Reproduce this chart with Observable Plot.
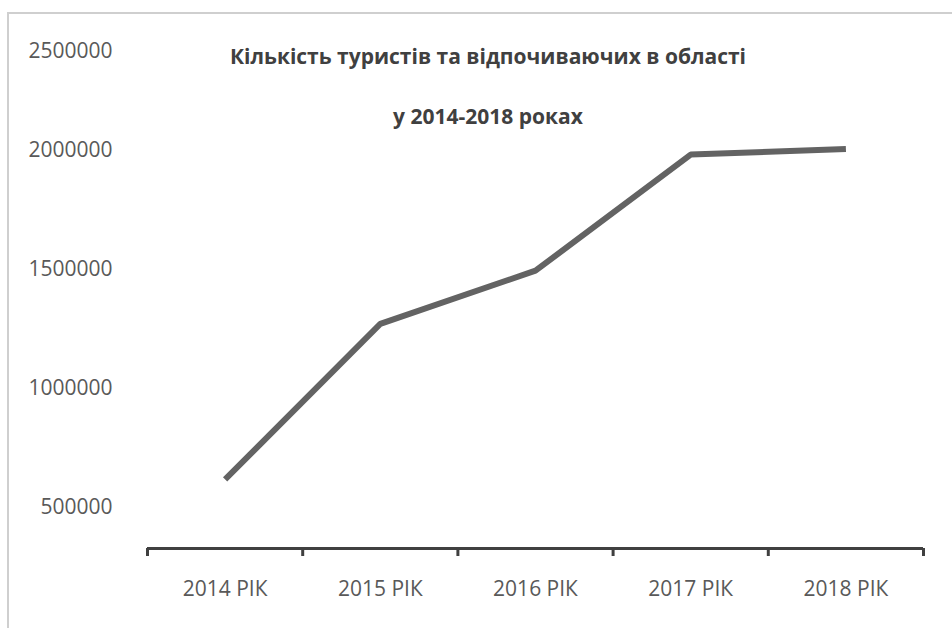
<!DOCTYPE html>
<html>
<head>
<meta charset="utf-8">
<script src="https://cdn.jsdelivr.net/npm/d3@7"></script>
<script src="https://cdn.jsdelivr.net/npm/@observablehq/plot@0.6"></script>
<style>
  html, body { margin: 0; padding: 0; background: #fff; overflow: hidden; }
  #wrap { position: relative; width: 952px; height: 628px; overflow: hidden; background: #fff; }
  #chart { position: absolute; left: 0; top: 0; z-index: 1; }
  .edge { position: absolute; background: #cfcfcf; z-index: 10; }
  .title { position: absolute; left: 178px; width: 620px; text-align: center; white-space: nowrap; z-index: 2;
           font-family: "Open Sans", sans-serif; font-weight: bold; font-size: 21px; color: #404040; }
</style>
</head>
<body>
<div id="wrap">
  <div id="chart"></div>
  <div class="edge" style="left:7px; top:12px; width:2px; height:616px;"></div>
  <div class="edge" style="left:7px; top:12px; width:945px; height:2px;"></div>
  <div class="title" style="top:42px">Кількість туристів та відпочиваючих в області</div>
  <div class="title" style="top:102px">у 2014-2018 роках</div>
</div>
<script>
const categories = ["2014 РІК", "2015 РІК", "2016 РІК", "2017 РІК", "2018 РІК"];
const tourists = [618000, 1272000, 1495000, 1983000, 2008000];
const yTicks = [500000, 1000000, 1500000, 2000000, 2500000];

const data = categories.map((c, i) => ({i, cat: c, value: tourists[i]}));
const boundaries = d3.range(-0.5, categories.length, 1);
const yBase = 328000;

const chart = Plot.plot({
  width: 952,
  height: 628,
  marginLeft: 147,
  marginRight: 29,
  marginTop: 20,
  marginBottom: 80,
  style: {fontFamily: "'Open Sans', sans-serif", fontSize: "21px", color: "#595959", background: "transparent"},
  x: {type: "linear", domain: [-0.5, categories.length - 0.5], range: [147, 923], axis: null},
  y: {type: "linear", domain: [yBase, 2000000, 2500000], range: [548, 150, 51], axis: null},
  marks: [
    Plot.axisY({ticks: yTicks, tickSize: 0, tickPadding: 35, tickFormat: d => String(d), label: null, fill: "#595959", fontSize: 21}),
    Plot.ruleY([yBase], {stroke: "#404040", strokeWidth: 3}),
    Plot.axisX({ticks: boundaries, tickSize: 8, tickFormat: () => "", stroke: "#404040", strokeWidth: 3, label: null}),
    Plot.axisX({ticks: d3.range(categories.length), tickSize: 0, tickPadding: 33, tickFormat: i => categories[i], label: null, fill: "#595959", fontSize: 21}),
    Plot.line(data, {x: "i", y: "value", stroke: "#636363", strokeWidth: 6, strokeLinecap: "butt", strokeLinejoin: "miter"})
  ]
});
document.getElementById("chart").appendChild(chart);
</script>
</body>
</html>
